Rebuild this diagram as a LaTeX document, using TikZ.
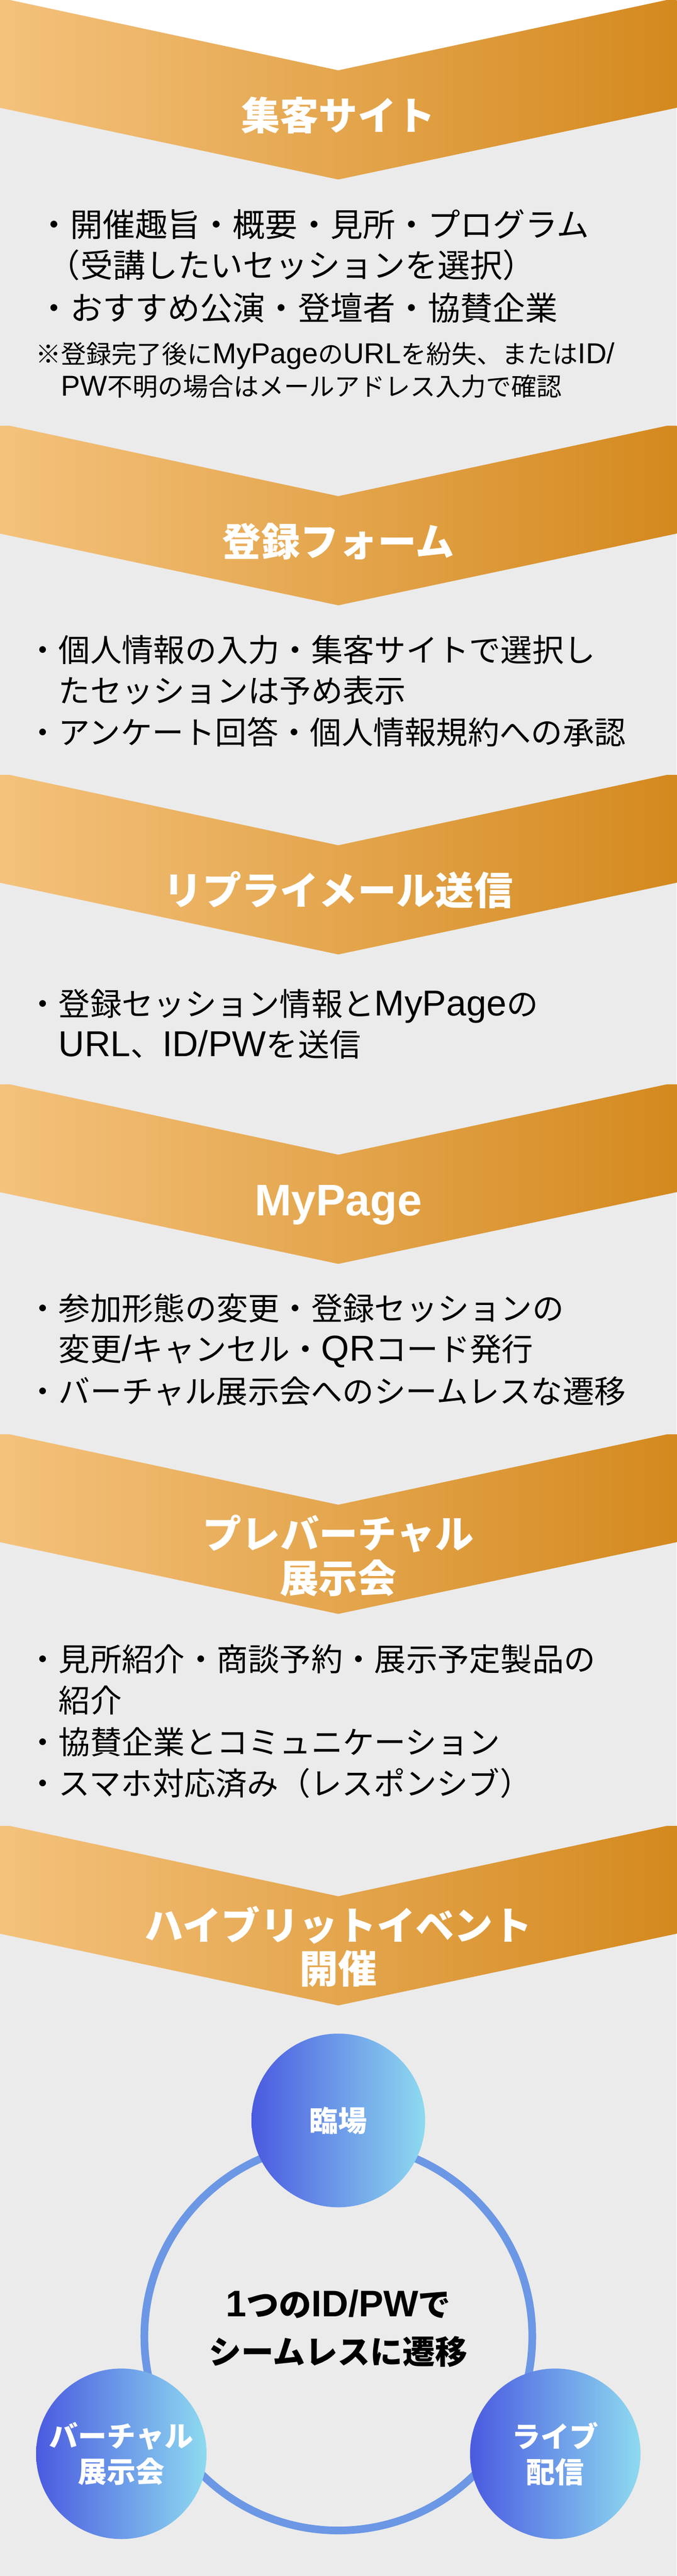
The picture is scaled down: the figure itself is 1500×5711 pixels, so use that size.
\documentclass[tikz,border=0pt]{standalone}
\usepackage{fontspec}
\newfontfamily\jp{Noto Sans CJK JP}
\newfontfamily\lat{Liberation Sans}[Scale=1.14]
\definecolor{bggray}{HTML}{EBEBEB}
\definecolor{orL}{HTML}{F4C27C}
\definecolor{orR}{HTML}{D4891E}
\definecolor{blL}{HTML}{4A5AE0}
\definecolor{blR}{HTML}{8EDAF0}
\definecolor{ringc}{HTML}{6B97E5}
\tikzset{
  chev/.style={left color=orL, right color=orR, draw=none},
  title/.style={anchor=center, inner sep=0pt, text=white,
    font=\jp\bfseries\fontsize{86pt}{86pt}\selectfont, text height=75.7pt, text depth=10.3pt},
  body/.style={anchor=west, inner sep=0pt, text=black,
    font=\jp\fontsize{70pt}{70pt}\selectfont, text height=61.6pt, text depth=8.4pt},
  bodyA/.style={anchor=west, inner sep=0pt, text=black,
    font=\jp\fontsize{72pt}{72pt}\selectfont, text height=63.4pt, text depth=8.6pt},
  note/.style={anchor=west, inner sep=0pt, text=black,
    font=\jp\fontsize{56pt}{56pt}\selectfont, text height=49.3pt, text depth=6.7pt},
  ball/.style={circle, inner sep=0pt, left color=blL, right color=blR, draw=none,
    text=white, align=center, font=\jp\bfseries\fontsize{64pt}{79pt}\selectfont},
  centertext/.style={anchor=center, inner sep=0pt, align=center, text=black,
    font=\jp\bfseries\fontsize{72pt}{105pt}\selectfont},
}
\begin{document}
\begin{tikzpicture}[x=1pt,y=-1pt]
\useasboundingbox (0,0) rectangle (1500,5711);
\fill[bggray] (0,0) rectangle (1500,5711);
\fill[white] (22,0) -- (750,156) -- (1478,0) -- cycle;
% chevrons
\foreach \Y in {0,944,1718,2404,3180,4048}{
  \shade[chev] (0,\Y) -- (22,\Y) -- (750,\Y+156) -- (1478,\Y) -- (1500,\Y)
    -- (1500,\Y+239) -- (750,\Y+398) -- (0,\Y+239) -- cycle;
}
% titles
\node[title] (t1) at (750,256) {集客サイト};
\node[title] (t2) at (750,1200) {登録フォーム};
\node[title] (t3) at (750,1974) {リプライメール送信};
\node[title] (t4) at (750,2662) {{\lat MyPage}};
\node[title] (t5a) at (750,3400) {プレバーチャル};
\node[title] (t5b) at (750,3498) {展示会};
\node[title] (t6a) at (750,4268) {ハイブリットイベント};
\node[title] (t6b) at (750,4364) {開催};
% block 1
\node[bodyA] (b1a) at (84,497) {・開催趣旨・概要・見所・プログラム};
\node[bodyA] (b1b) at (106,588) {（受講したいセッションを選択）};
\node[bodyA] (b1c) at (84,682) {・おすすめ公演・登壇者・協賛企業};
\node[note] (n1a) at (79,784) {※登録完了後に{\lat MyPage}の{\lat URL}を紛失、または{\lat ID/}};
\node[note] (n1b) at (135,856) {{\lat PW}不明の場合はメールアドレス入力で確認};
% block 2
\node[body] (b2a) at (60,1440) {・個人情報の入力・集客サイトで選択し};
\node[body] (b2b) at (130,1531) {たセッションは予め表示};
\node[body] (b2c) at (60,1623) {・アンケート回答・個人情報規約への承認};
% block 3
\node[body] (b3a) at (60,2225) {・登録セッション情報と{\lat MyPage}の};
\node[body] (b3b) at (130,2316) {{\lat URL}、{\lat ID/PW}を送信};
% block 4
\node[body] (b4a) at (60,2900) {・参加形態の変更・登録セッションの};
\node[body] (b4b) at (130,2991) {変更{\lat /}キャンセル・{\lat QR}コード発行};
\node[body] (b4c) at (60,3084) {・バーチャル展示会へのシームレスな遷移};
% block 5
\node[body] (b5a) at (60,3678) {・見所紹介・商談予約・展示予定製品の};
\node[body] (b5b) at (130,3769) {紹介};
\node[body] (b5c) at (60,3862) {・協賛企業とコミュニケーション};
\node[body] (b5d) at (60,3953) {・スマホ対応済み（レスポンシブ）};
% ring and circles
\coordinate (rc) at (750,5180);
\draw[ringc, line width=17pt] (rc) circle[radius=430pt];
\node[ball, minimum size=385pt] (c1) at (750,4701) {臨場};
\node[ball, minimum size=378pt] (c2) at (269,5440) {バーチャル\\展示会};
\node[ball, minimum size=378pt] (c3) at (1231,5440) {ライブ\\配信};
\node[centertext] (ct) at (750,5162) {{\lat 1}つの{\lat ID/PW}で\\シームレスに遷移};
\end{tikzpicture}
\end{document}
